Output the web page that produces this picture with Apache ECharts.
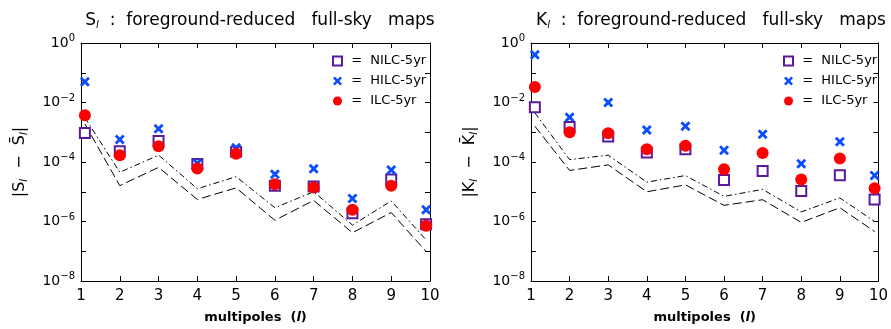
<!DOCTYPE html>
<html>
<head>
<meta charset="utf-8">
<script src="https://cdn.jsdelivr.net/npm/echarts@6/dist/echarts.min.js"></script>
<style>
  html, body { margin: 0; padding: 0; background: #fff; }
  #main { width: 891px; height: 329px; }
</style>
</head>
<body>
<div id="main"></div>
<script>
// multipoles l = 1..10
var multipoles = [1, 2, 3, 4, 5, 6, 7, 8, 9, 10];

// S_l panel
var sNILC = [9.5e-4, 2.3e-4, 5.1e-4, 8.5e-5, 2.2e-4, 1.6e-5, 1.5e-5, 1.9e-6, 2.6e-5, 8.1e-7];
var sHILC = [5.0e-2, 5.7e-4, 1.3e-3, 9.0e-5, 3.0e-4, 3.9e-5, 5.9e-5, 5.9e-6, 5.4e-5, 2.5e-6];
var sILC  = [3.7e-3, 1.7e-4, 3.4e-4, 6.0e-5, 1.9e-4, 1.8e-5, 1.4e-5, 2.5e-6, 1.6e-5, 7.2e-7];
var sDashDot = [3.1e-3, 4.5e-5, 1.7e-4, 1.26e-5, 3.2e-5, 2.9e-6, 1.0e-5, 7.6e-7, 4.9e-6, 2.4e-7];
var sDashed  = [1.9e-3, 1.6e-5, 6.6e-5, 5.5e-6, 1.35e-5, 1.1e-6, 5.1e-6, 4.2e-7, 2.0e-6, 9.8e-8];

// K_l panel
var kNILC = [6.9e-3, 1.5e-3, 7.2e-4, 2.1e-4, 2.7e-4, 2.5e-5, 5.0e-5, 1.05e-5, 3.6e-5, 5.5e-6];
var kHILC = [0.4, 3.2e-3, 1.0e-2, 1.2e-3, 1.6e-3, 2.5e-4, 8.5e-4, 8.8e-5, 4.8e-4, 3.5e-5];
var kILC  = [3.3e-2, 1.0e-3, 9.3e-4, 2.7e-4, 3.5e-4, 5.7e-5, 2.0e-4, 2.6e-5, 1.3e-4, 1.3e-5];
var kDashDot = [4.5e-3, 1.2e-4, 1.7e-4, 2.1e-5, 3.5e-5, 7.0e-6, 1.2e-5, 2.1e-6, 6.2e-6, 1.0e-6];
var kDashed  = [1.6e-3, 5.2e-5, 8.0e-5, 1.0e-5, 1.7e-5, 3.5e-6, 5.4e-6, 9.3e-7, 2.9e-6, 4.6e-7];

var yTicks = [1e-8, 1e-6, 1e-4, 1e-2, 1];

var names = ['NILC-5yr', 'HILC-5yr', 'ILC-5yr'];

// end points are drawn slightly inside the frame
var edgeInset = 0.1;
function px(l) {
    if (l == multipoles[0]) return l + edgeInset;
    if (l == multipoles[multipoles.length - 1]) return l - edgeInset;
    return l;
}
function pairs(vals) {
    return vals.map(function(v, i) { return [px(multipoles[i]), v]; });
}

var FONT = 'DejaVu Sans';
var crossPath = 'path://M2,0 L5,3 L8,0 L10,2 L7,5 L10,8 L8,10 L5,7 L2,10 L0,8 L3,5 L0,2 Z';

function expLabel(v) {
    var e = Math.round(Math.log10(v));
    if (yTicks.indexOf(Math.pow(10, e)) < 0 && e != 0) return '';
    return '{b|10}{s|' + (e < 0 ? '\u2212' + (-e) : e) + '}';
}

function xAxes(gi) {
    return [{
        type: 'value', gridIndex: gi, min: 1, max: 10, interval: 1,
        name: 'multipoles  ({i|l})', nameLocation: 'middle', nameGap: 30,
        nameTextStyle: { fontFamily: FONT, fontSize: 13, fontWeight: 'bold', color: '#000',
            rich: { i: { fontFamily: FONT, fontSize: 13, fontStyle: 'italic', color: '#000' } } },
        axisLine: { show: true, onZero: false, lineStyle: { color: '#000', width: 1 } },
        axisTick: { show: true, inside: true, length: 5, lineStyle: { color: '#000' } },
        axisLabel: { fontFamily: FONT, fontSize: 15, color: '#000', margin: 8 },
        splitLine: { show: false }
    }, {
        type: 'value', gridIndex: gi, position: 'top', min: 1, max: 10, interval: 1,
        axisLine: { show: true, onZero: false, lineStyle: { color: '#000', width: 1 } },
        axisTick: { show: true, inside: true, length: 5, lineStyle: { color: '#000' } },
        axisLabel: { show: false },
        splitLine: { show: false }
    }];
}

function yAxes(gi, nameText) {
    return [{
        type: 'log', gridIndex: gi, logBase: 10, min: 1e-8, max: 1, interval: 1,
        name: nameText, nameLocation: 'middle', nameGap: 52, nameRotate: 90,
        nameTextStyle: { fontFamily: FONT, fontSize: 16, color: '#000',
            rich: { sub: { fontFamily: FONT, fontSize: 10, fontStyle: 'italic', color: '#000', padding: [8, 0, 0, 0] } } },
        axisLine: { show: true, onZero: false, lineStyle: { color: '#000', width: 1 } },
        axisTick: { show: true, inside: true, length: 5, lineStyle: { color: '#000' } },
        axisLabel: {
            fontFamily: FONT, color: '#000', margin: 6, formatter: expLabel, interval: 1,
            rich: {
                b: { fontFamily: FONT, fontSize: 14, color: '#000' },
                s: { fontFamily: FONT, fontSize: 10, color: '#000', padding: [0, 0, 9, 0] }
            }
        },
        splitLine: { show: false }
    }, {
        type: 'log', gridIndex: gi, logBase: 10, min: 1e-8, max: 1, interval: 1, position: 'right',
        axisLine: { show: true, onZero: false, lineStyle: { color: '#000', width: 1 } },
        axisTick: { show: true, inside: true, length: 5, lineStyle: { color: '#000' } },
        axisLabel: { show: false },
        splitLine: { show: false }
    }];
}

function panelSeries(gi, nilc, hilc, ilc, dd, dsh) {
    var xi = gi * 2, yi = gi * 2;
    return [{
        type: 'line', xAxisIndex: xi, yAxisIndex: yi, data: pairs(dd), symbol: 'none', silent: true,
        lineStyle: { color: '#000', width: 1, type: [6, 3, 1.5, 3] }, z: 2
    }, {
        type: 'line', xAxisIndex: xi, yAxisIndex: yi, data: pairs(dsh), symbol: 'none', silent: true,
        lineStyle: { color: '#000', width: 1, type: [9, 4] }, z: 2
    }, {
        name: names[0], type: 'scatter', xAxisIndex: xi, yAxisIndex: yi, data: pairs(nilc),
        symbol: 'rect', symbolSize: 10,
        itemStyle: { color: '#fff', borderColor: '#5b1a9c', borderWidth: 2, opacity: 1 }, z: 3
    }, {
        name: names[1], type: 'scatter', xAxisIndex: xi, yAxisIndex: yi, data: pairs(hilc),
        symbol: crossPath, symbolSize: 10,
        itemStyle: { color: '#0a4cff', opacity: 1 }, z: 4
    }, {
        name: names[2], type: 'scatter', xAxisIndex: xi, yAxisIndex: yi, data: pairs(ilc),
        symbol: 'circle', symbolSize: 12,
        itemStyle: { color: '#ff0000', opacity: 1 }, z: 5
    }];
}

function legendAt(left) {
    return {
        orient: 'vertical', left: left, top: 53, padding: 0,
        itemWidth: 9, itemHeight: 9, itemGap: 4,
        data: names, selectedMode: false,
        formatter: function(n) { return ' =  ' + n; },
        textStyle: { fontFamily: FONT, fontSize: 13, color: '#000', lineHeight: 16 }
    };
}

var titleStyle = { fontFamily: FONT, fontSize: 17, fontWeight: 'normal', color: '#000',
    rich: { sub: { fontFamily: FONT, fontSize: 10, fontStyle: 'italic', color: '#000', padding: [9, 0, 0, 0] } } };

var chart = echarts.init(document.getElementById('main'), null, { renderer: 'canvas' });

var option = {
    animation: false,
    backgroundColor: '#fff',
    title: [{
        text: 'S{sub|l}  :  foreground-reduced   full-sky   maps',
        left: 255, top: 6, textAlign: 'center', textStyle: titleStyle
    }, {
        text: 'K{sub|l}  :  foreground-reduced   full-sky   maps',
        left: 706, top: 6, textAlign: 'center', textStyle: titleStyle
    }],
    legend: [legendAt(332), legendAt(783)],
    grid: [
        { left: 81, width: 349, top: 43, height: 240 },
        { left: 531, width: 349, top: 43, height: 240 }
    ],
    xAxis: xAxes(0).concat(xAxes(1)),
    yAxis: yAxes(0, '|S{sub|l}  \u2212  S\u0304{sub|l}|').concat(yAxes(1, '|K{sub|l}  \u2212  K\u0304{sub|l}|')),
    series: panelSeries(0, sNILC, sHILC, sILC, sDashDot, sDashed)
        .concat(panelSeries(1, kNILC, kHILC, kILC, kDashDot, kDashed))
};

chart.setOption(option);
</script>
</body>
</html>
